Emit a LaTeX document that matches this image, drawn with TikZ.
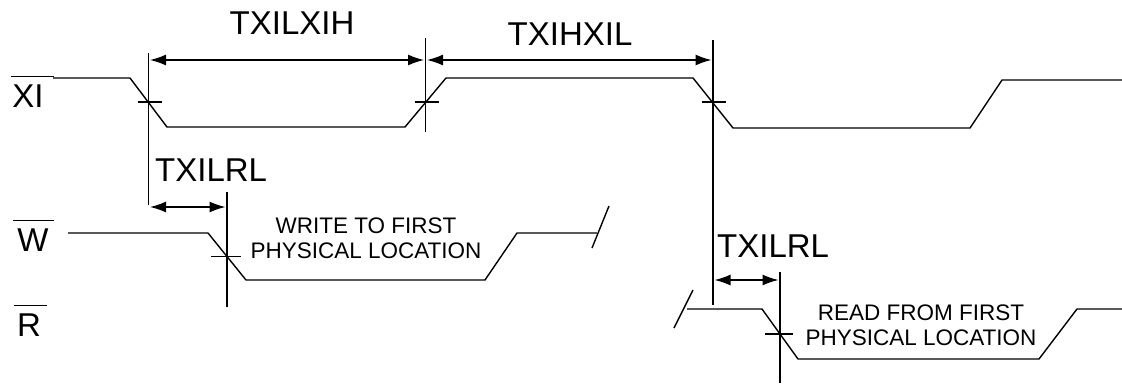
\documentclass[tikz,border=0pt]{standalone}
\usepackage{fontspec}
\setmainfont{Liberation Sans}
\usetikzlibrary{arrows.meta}
\begin{document}
\begin{tikzpicture}[x=1pt,y=-1pt,
  sig/.style={line width=1.4pt, line join=miter},
  guide/.style={line width=1.2pt},
  tick/.style={line width=1.2pt},
  dimarrow/.style={line width=1.4pt, {Latex[length=16pt,width=11pt]}-{Latex[length=16pt,width=11pt]}},
  biglbl/.style={font=\fontsize{33}{33}\selectfont, inner sep=0pt},
  smalllbl/.style={font=\fontsize{22.5}{25}\selectfont, inner sep=0pt, align=center},
  signame/.style={font=\fontsize{33}{33}\selectfont, inner sep=0pt}]
\useasboundingbox (0,0) rectangle (1122,386);

% signal names with overbars
\node[signame] (xi) at (28,96) {XI};
\draw[tick] ([xshift=-1pt,yshift=8pt]xi.north west) -- ([xshift=10pt,yshift=8pt]xi.north east);
\node[signame] (w) at (33,240) {W};
\draw[tick] ([xshift=-4pt,yshift=8pt]w.north west) -- ([xshift=5pt,yshift=8pt]w.north east);
\node[signame] (r) at (29,325) {R};
\draw[tick] ([xshift=-3pt,yshift=8pt]r.north west) -- ([xshift=6pt,yshift=8pt]r.north east);

% crossing points
\coordinate (c1) at (148.5,102);
\coordinate (c2) at (425.5,102);
\coordinate (c3) at (713,102);
\coordinate (c4) at (227,256.5);
\coordinate (c5) at (780,334);

% XI waveform
\draw[sig] (53,78) -- (130,78) -- (167,127) -- (405,127) -- (446,78) -- (693,78)
  -- (733,128) -- (970,128) -- (1002,80) -- (1122,80);

% W waveform
\draw[sig] (68,233) -- (208,233) -- (246,280) -- (485,280) -- (517,233) -- (597,233);
\draw[sig] (592,248) -- (609,206);

% R waveform
\draw[sig] (674,328) -- (693,290);
\draw[sig] (687,309) -- (762,309) -- (798,359) -- (1039,359) -- (1077,309) -- (1122,309);

% guide lines
\coordinate (v1t) at (148.5,53);  \coordinate (v1b) at (148.5,205);
\coordinate (v2t) at (425.5,38);  \coordinate (v2b) at (425.5,132);
\coordinate (v3t) at (713,40);    \coordinate (v3b) at (713,305);
\coordinate (v4t) at (227,192);   \coordinate (v4b) at (227,307);
\coordinate (v5t) at (780,272);   \coordinate (v5b) at (780,383);
\draw[guide] (v1t) -- (v1b);
\draw[guide] (v2t) -- (v2b);
\draw[guide] (v3t) -- (v3b);
\draw[guide] (v4t) -- (v4b);
\draw[guide] (v5t) -- (v5b);

% ticks at crossings
\foreach \c in {c1,c2,c3} {\draw[tick] ([xshift=-11pt]\c) -- ([xshift=13pt]\c);}
\draw[tick] ([xshift=-16pt]c4) -- ([xshift=14pt]c4);
\draw[tick] ([xshift=-15pt]c5) -- ([xshift=13pt]c5);

% dimension arrows
\coordinate (a1l) at (148.5,60); \coordinate (a1r) at (425.5,60);
\coordinate (a2l) at (425.5,60); \coordinate (a2r) at (713,60);
\coordinate (a3l) at (148.5,207); \coordinate (a3r) at (227,207);
\coordinate (a4l) at (713,280); \coordinate (a4r) at (780,280);
\draw[dimarrow] ([xshift=1.5pt]a1l) -- ([xshift=-1.5pt]a1r);
\draw[dimarrow] ([xshift=1.5pt]a2l) -- ([xshift=-1.5pt]a2r);
\draw[dimarrow] ([xshift=1.5pt]a3l) -- ([xshift=-1.5pt]a3r);
\draw[dimarrow] ([xshift=1.5pt]a4l) -- ([xshift=-1.5pt]a4r);

% dimension labels
\node[biglbl] (t1) at (292,23) {TXILXIH};
\node[biglbl] (t2) at (570,34) {TXIHXIL};
\node[biglbl, anchor=west] (t3) at (155,170) {TXILRL};
\node[biglbl, anchor=west] (t4) at (717,246) {TXILRL};

% notes
\node[smalllbl] (wn) at (366,238.5) {WRITE TO FIRST\\PHYSICAL LOCATION};
\node[smalllbl] (rn) at (921,325) {READ FROM FIRST\\PHYSICAL LOCATION};
\end{tikzpicture}
\end{document}
